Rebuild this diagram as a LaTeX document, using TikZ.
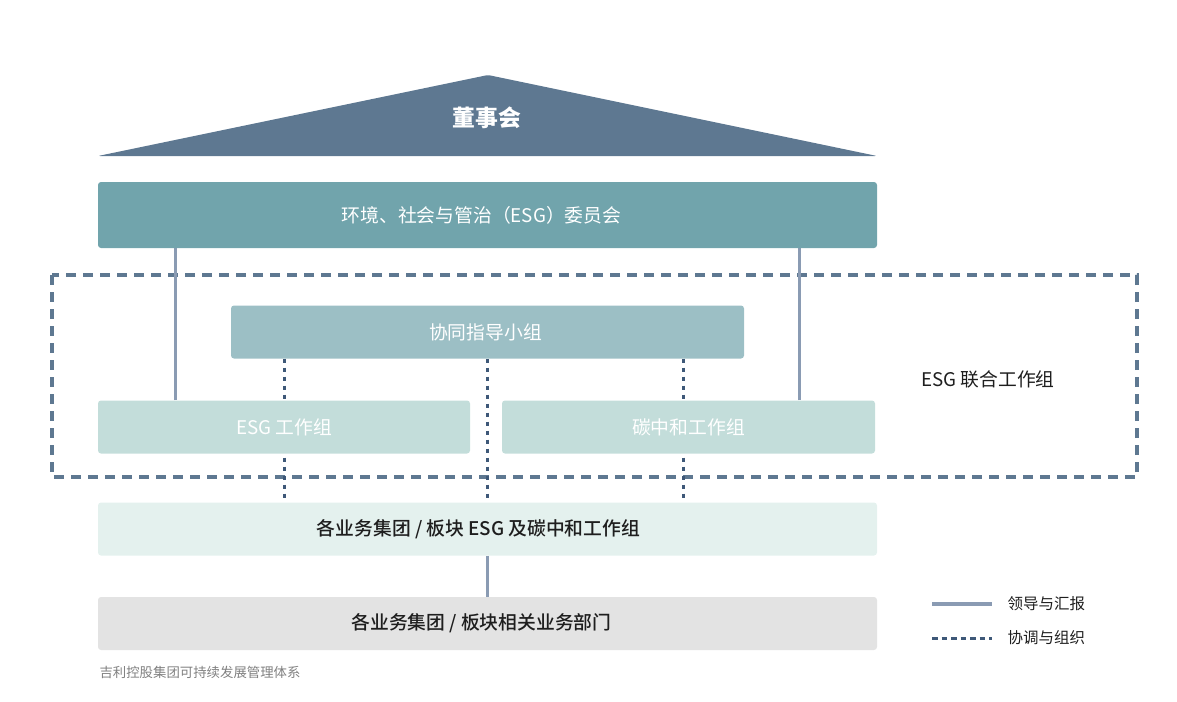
\documentclass[tikz,border=0pt]{standalone}
\usepackage{fontspec}
\setmainfont{Noto Sans CJK SC}
\newfontfamily\medfont{Noto Sans CJK SC Medium}
\usepackage{tikz}
\usetikzlibrary{positioning,calc,backgrounds}
\definecolor{GeelyRoof}{HTML}{5E7891}
\definecolor{GeelyTeal}{HTML}{71A4AC}
\definecolor{GeelySync}{HTML}{9CBFC5}
\definecolor{GeelyWork}{HTML}{C3DDDA}
\definecolor{GeelyPale}{HTML}{E4F1EE}
\definecolor{GeelyGray}{HTML}{E3E3E3}
\definecolor{GeelyLead}{HTML}{8A9BB3}
\definecolor{GeelyDot}{HTML}{3E5878}
\definecolor{GeelyText}{HTML}{1E1E1E}

\begin{document}
\begin{tikzpicture}[x=1pt,y=-1pt,every node/.style={font=\fontsize{18.8}{22}\selectfont},
  box/.style={rounded corners=3pt,minimum height=53pt,align=center,inner sep=0pt},
  lead/.style={GeelyLead,line width=3.3pt},
  coord/.style={GeelyDot,line width=3pt,dash pattern=on 4.5pt off 4.5pt}]
\useasboundingbox (0,0) rectangle (1177,701);
% roof
\fill[GeelyRoof,rounded corners=2pt] (98,156) -- (488,75) -- (877,156) -- cycle;
\node[white,font=\fontsize{22.8}{26}\selectfont\bfseries] (board) at (487,118) {董事会};
% boxes
\node[box,fill=GeelyTeal,text=white,minimum width=779pt,minimum height=66pt] (committee) at (487.5,215) {环境、社会与管治（ESG）委员会\hspace{12pt}};
\node[box,fill=GeelySync,text=white,minimum width=513pt] (sync) at (487.5,332) {协同指导小组\hspace{4pt}};
\node[box,fill=GeelyWork,text=white,minimum width=372pt] (esgwg) at (284,427) {ESG 工作组};
\node[box,fill=GeelyWork,text=white,minimum width=373pt] (carbon) at (688.5,427) {碳中和工作组};
\node[box,fill=GeelyPale,text=GeelyText,font=\fontsize{18.8}{22}\medfont,minimum width=779pt] (groups) at (487.5,529) {各业务集团 / 板块 ESG 及碳中和工作组\hspace{18pt}};
\node[box,fill=GeelyGray,text=GeelyText,font=\fontsize{18.8}{22}\medfont,minimum width=779pt] (depts) at (487.5,623.5) {各业务集团 / 板块相关业务部门\hspace{12pt}};
\node[text=GeelyText] (joint) at (988,379) {ESG 联合工作组};
\node[text=gray,anchor=west,font=\fontsize{13.4}{16}\selectfont] (caption) at (96,672) {吉利控股集团可持续发展管理体系};
% connectors
\begin{scope}[on background layer]
\draw[GeelyRoof,line width=3.3pt,dash pattern=on 10pt off 7pt] (52,275) rectangle (1137,477);
\draw[lead] ([xshift=78pt]esgwg.north west) -- ([xshift=78pt]esgwg.north west |- committee.south);
\draw[lead] ([xshift=-76pt]carbon.north east) -- ([xshift=-76pt]carbon.north east |- committee.south);
\draw[coord] (sync.south -| esgwg.north) -- (groups.north -| esgwg.north);
\draw[coord] (sync.south) -- (groups.north);
\draw[coord] ([xshift=-5.5pt]sync.south -| carbon.north) -- ([xshift=-5.5pt]groups.north -| carbon.north);
\draw[lead] (groups.south) -- (depts.north);
\end{scope}
% legend
\coordinate (leadA) at (932,604);
\coordinate (leadB) at (992,604);
\coordinate (coordA) at (932,638);
\coordinate (coordB) at (992,638);
\draw[lead] (leadA) -- (leadB);
\draw[coord,dash pattern=on 5.5pt off 4pt] (coordA) -- (coordB);
\node[anchor=west,text=GeelyText,font=\fontsize{15.5}{18}\selectfont] (leadtxt) at (1004,604) {领导与汇报};
\node[anchor=west,text=GeelyText,font=\fontsize{15.5}{18}\selectfont] (coordtxt) at (1004,638) {协调与组织};
\end{tikzpicture}
\end{document}
